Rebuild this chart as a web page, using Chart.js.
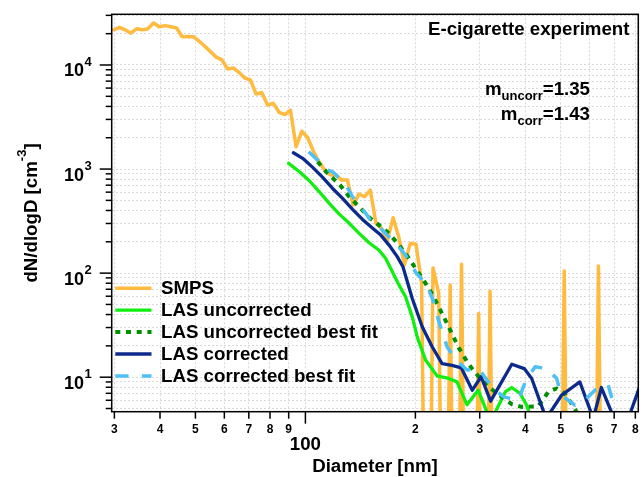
<!DOCTYPE html>
<html>
<head>
<meta charset="utf-8">
<script src="https://cdn.jsdelivr.net/npm/chart.js@4.4.0/dist/chart.umd.min.js"></script>
<style>
  html, body { margin: 0; padding: 0; background: #fff; }
  #wrap { width: 641px; height: 477px; }
</style>
</head>
<body>
<div id="wrap"><canvas id="chart" width="641" height="477"></canvas></div>
<script>
// SMPS size distribution (diameter in nm, dN/dlogD in cm^-3); 0 = no counts
const smpsDiameter = [29.9, 31.0, 32.1, 33.3, 34.5, 35.7, 37.0, 38.4, 39.8, 41.3, 42.8, 44.4, 46.0, 47.7, 49.4, 51.2,
  53.1, 55.0, 57.0, 59.1, 61.3, 63.5, 65.8, 68.2, 70.7, 73.3, 76.0, 78.8, 81.7, 84.7, 87.8, 91.0, 94.3, 97.8,
  101.4, 105.1, 108.9, 112.9, 117.0, 121.3, 125.7, 130.3, 135.1, 140.1, 145.2, 150.5, 156.0, 161.7, 167.6, 173.8,
  180.1, 186.7, 193.6, 200.7, 208.0, 215.6, 223.5, 231.7, 240.2, 249.0, 258.1, 267.5, 277.3, 287.5, 298.0, 308.9,
  320.2, 331.9, 344.1, 356.7, 369.7, 383.3, 397.3, 411.8, 426.9, 442.5, 458.7, 475.5, 492.9, 511.0, 529.7, 549.1,
  569.2, 590.0, 611.6, 634.0, 657.2, 681.3, 706.2, 732.1, 758.9, 786.7];
const smpsConc = [21800, 23000, 21800, 20200, 22300, 21800, 22200, 25300, 23300, 23900, 23300, 22700, 18700, 18800,
  18700, 16900, 15100, 13400, 11900, 11200, 9160, 9360, 8510, 7500, 7180, 5260, 5420, 4130, 4280, 3510, 3330, 3690,
  1640, 2310, 2010, 1490, 1180, 978, 876, 876, 783, 783, 451, 575, 542, 629, 301, 269, 205, 340, 223, 120, 193, 190,
  80, 0, 112, 64, 0, 77, 0, 122, 0, 0, 41, 0, 67, 0, 0, 0, 0, 0, 0, 0, 0, 0, 0, 0, 0, 105, 0, 0, 0, 0, 0, 117,
  0, 0, 0, 0, 0, 0];

// LAS uncorrected
const lasUncorrDiameter = [90.0, 96.3, 102.5, 109.2, 116.2, 123.8, 131.8, 140.3, 149.4, 159.1, 165.9, 171.2, 180.4,
  188.0, 196.1, 202.3, 213.3, 229.3, 246.8, 260.0, 276.8, 297.1, 312.4, 322.0, 352.4, 367.2, 387.0, 403.4, 420.0];
const lasUncorrConc = [1135, 942, 772, 605, 468, 369, 301, 241, 196, 166, 138, 111, 76.7, 59.2, 38.0, 24.4, 14.6,
  10.3, 9.72, 9.02, 5.44, 7.50, 4.82, 3.8, 7.22, 7.96, 6.97, 5.38, 3.5];

// LAS uncorrected best fit
const lasUncorrFitDiameter = [108.0, 116.2, 123.8, 131.8, 140.3, 149.4, 159.1, 169.4, 180.4, 192.0, 204.5, 217.8,
  231.8, 246.8, 262.8, 279.8, 298.0, 317.2, 344.9, 367.2, 391.0, 434.1, 462.2, 487.0, 513.3, 534.0, 580.0];
const lasUncorrFitConc = [1175, 876, 717, 542, 434, 343, 289, 241, 186, 139, 99.3, 71.3, 47.4, 30.3, 19.2, 13.3,
  10.1, 8.07, 6.47, 5.50, 5.18, 5.26, 7.22, 7.79, 6.97, 5.62, 3.5];

// LAS corrected
const lasCorrDiameter = [92.7, 98.3, 104.7, 111.5, 118.7, 126.4, 134.6, 143.3, 154.2, 160.8, 169.4, 178.4, 184.9,
  196.1, 208.8, 222.3, 236.6, 252.0, 267.0, 286.3, 302.6, 321.3, 367.2, 397.1, 416.3, 456.0, 502.4, 563.9, 613.6,
  645.9, 700.0, 755.0, 835.6];
const lasCorrConc = [1435, 1268, 1038, 832, 651, 522, 410, 328, 263, 232, 186, 144, 115, 57.1, 30.5, 19.6, 13.5,
  13.0, 12.3, 7.50, 10.1, 5.88, 13.3, 12.1, 9.72, 4.0, 6.71, 9.0, 4.0, 7.96, 4.0, 3.5, 9.5];

// LAS corrected best fit
const lasCorrFitDiameter = [102.1, 109.2, 115.0, 118.7, 123.8, 129.1, 134.6, 140.3, 146.3, 152.6, 159.1, 169.4,
  176.6, 188.0, 200.3, 213.3, 222.3, 231.8, 244.2, 257.4, 276.8, 298.0, 323.9, 348.5, 382.9, 400.3, 425.3, 457.4,
  487.0, 501.5, 546.8, 582.0, 619.7, 673.5, 695.0, 730.0];
const lasCorrFitConc = [1466, 1175, 978, 941, 815, 702, 542, 451, 375, 305, 279, 223, 195, 149, 102, 79.6, 58.1,
  34.5, 19.6, 14.9, 11.7, 12.1, 8.07, 6.47, 6.01, 9.15, 12.6, 12.1, 9.78, 6.71, 5.38, 6.01, 7.50, 8.47, 5.75, 3.0];

// axes
const xTicks = [30, 40, 50, 60, 70, 80, 90, 100, 200, 300, 400, 500, 600, 700, 800];
const xTickLabels = ["3", "4", "5", "6", "7", "8", "9", "100", "2", "3", "4", "5", "6", "7", "8"];
const yMajorTicks = [10, 100, 1000, 10000];
const yTicks = [5, 6, 7, 8, 9, 10, 20, 30, 40, 50, 60, 70, 80, 90, 100, 200, 300, 400, 500, 600, 700, 800, 900,
  1000, 2000, 3000, 4000, 5000, 6000, 7000, 8000, 9000, 10000, 20000, 30000];

const FONT = '"Liberation Sans", Arial, Helvetica, sans-serif';
function font(size) {
  return "bold " + size + "px " + FONT;
}

// log axis cannot show zero counts: push them far below the visible range
function toPoints(xs, ys) {
  return xs.map(function (x, i) {
    return { x: x, y: ys[i] > 0 ? ys[i] : 1e-3 };
  });
}

function series(label, xs, ys, color, width, dash, order) {
  return {
    label: label,
    data: toPoints(xs, ys),
    borderColor: color,
    backgroundColor: color,
    borderWidth: width,
    borderDash: dash,
    borderCapStyle: dash.length ? "butt" : "round",
    borderJoinStyle: "round",
    pointRadius: 0,
    tension: 0,
    fill: false,
    clip: 0,
    order: order
  };
}

const decorations = {
  id: "decorations",
  afterDraw(chart) {
    const ctx = chart.ctx;
    const area = chart.chartArea;
    const xs = chart.scales.x;
    const ys = chart.scales.y;
    ctx.save();
    ctx.strokeStyle = "#000";
    ctx.fillStyle = "#000";
    ctx.lineWidth = 1.5;
    ctx.setLineDash([]);
    ctx.strokeRect(area.left, area.top, area.right - area.left, area.bottom - area.top);

    // y ticks and labels
    yTicks.forEach(function (v) {
      const py = ys.getPixelForValue(v);
      const major = yMajorTicks.indexOf(v) >= 0;
      ctx.beginPath();
      ctx.moveTo(area.left - (major ? 12 : 6), py);
      ctx.lineTo(area.left, py);
      ctx.stroke();
      if (major) {
        ctx.textAlign = "right";
        ctx.textBaseline = "alphabetic";
        ctx.font = font(18);
        ctx.fillText("10", 84, py + 11.5);
        ctx.textAlign = "left";
        ctx.font = font(13);
        ctx.fillText(String(Math.round(Math.log10(v))), 84.5, py + 1);
      }
    });

    // x ticks and labels
    xTicks.forEach(function (v, i) {
      const px = xs.getPixelForValue(v);
      const big = v === 100;
      ctx.beginPath();
      ctx.moveTo(px, area.bottom);
      ctx.lineTo(px, area.bottom + (big ? 12 : 7));
      ctx.stroke();
      ctx.textAlign = "center";
      ctx.textBaseline = "alphabetic";
      ctx.font = font(big ? 18.7 : 12);
      ctx.fillText(xTickLabels[i], px, big ? 449.5 : 432.7);
    });

    // axis titles
    ctx.font = font(18.7);
    ctx.textAlign = "center";
    ctx.fillText("Diameter [nm]", (area.left + area.right) / 2, 472);

    ctx.save();
    ctx.translate(37, (area.top + area.bottom) / 2);
    ctx.rotate(-Math.PI / 2);
    ctx.textAlign = "left";
    ctx.font = font(18.7);
    const t1 = "dN/dlogD [cm";
    const w1 = ctx.measureText(t1).width;
    const w3 = ctx.measureText("]").width;
    ctx.font = font(13);
    const w2 = ctx.measureText("-3").width;
    let x0 = -(w1 + w2 + w3) / 2;
    ctx.font = font(18.7);
    ctx.fillText(t1, x0, 0);
    ctx.font = font(13);
    ctx.fillText("-3", x0 + w1, -11);
    ctx.font = font(18.7);
    ctx.fillText("]", x0 + w1 + w2, 0);
    ctx.restore();

    // annotations
    ctx.textAlign = "right";
    ctx.font = font(18.7);
    ctx.fillText("E-cigarette experiment", 629.5, 34.5);

    function mLabel(sub, value, baseline) {
      ctx.textAlign = "left";
      ctx.font = font(18.7);
      const wv = ctx.measureText(value).width;
      const wm = ctx.measureText("m").width;
      ctx.font = font(13);
      const ws = ctx.measureText(sub).width;
      const right = 590;
      ctx.fillText(sub, right - wv - ws, baseline + 5);
      ctx.font = font(18.7);
      ctx.fillText("m", right - wv - ws - wm, baseline);
      ctx.fillText(value, right - wv, baseline);
    }
    mLabel("uncorr", "=1.35", 94.5);
    mLabel("corr", "=1.43", 119.5);

    // legend
    chart.data.datasets.forEach(function (ds, i) {
      const y = 288.3 + i * 21.9;
      ctx.beginPath();
      ctx.strokeStyle = ds.borderColor;
      ctx.lineWidth = ds.borderWidth;
      ctx.setLineDash(ds.borderDash);
      ctx.lineCap = "butt";
      ctx.moveTo(115.3, y);
      ctx.lineTo(151.5, y);
      ctx.stroke();
      ctx.setLineDash([]);
      ctx.fillStyle = "#000";
      ctx.textAlign = "left";
      ctx.font = font(18.7);
      ctx.fillText(ds.label, 161, y + 5.8);
    });
    ctx.restore();
  }
};

const gridStyle = {
  color: "#d9d9d9",
  lineWidth: 1,
  drawTicks: false
};

new Chart(document.getElementById("chart"), {
  type: "line",
  data: {
    datasets: [
      series("SMPS", smpsDiameter, smpsConc, "#FFBA40", 3.5, [], 5),
      series("LAS uncorrected", lasUncorrDiameter, lasUncorrConc, "#11EE11", 3.3, [], 4),
      series("LAS uncorrected best fit", lasUncorrFitDiameter, lasUncorrFitConc, "#009000", 4, [5, 5.7], 3),
      series("LAS corrected", lasCorrDiameter, lasCorrConc, "#0C2A8C", 3.3, [], 2),
      series("LAS corrected best fit", lasCorrFitDiameter, lasCorrFitConc, "#4DC0F5", 3.5, [13.3, 13.3], 1)
    ]
  },
  options: {
    responsive: false,
    animation: false,
    devicePixelRatio: 1,
    layout: {
      padding: { left: 111.7, top: 14.3, right: 2.7, bottom: 65.3 }
    },
    scales: {
      x: {
        type: "logarithmic",
        min: 29.5,
        max: 815,
        afterBuildTicks: function (scale) {
          scale.ticks = xTicks.map(function (v) { return { value: v }; });
        },
        ticks: { display: false },
        grid: gridStyle,
        border: { display: false, dash: [2, 2] }
      },
      y: {
        type: "logarithmic",
        min: 4.66,
        max: 30700,
        afterBuildTicks: function (scale) {
          scale.ticks = yTicks.map(function (v) { return { value: v }; });
        },
        ticks: { display: false },
        grid: gridStyle,
        border: { display: false, dash: [2, 2] }
      }
    },
    plugins: {
      legend: { display: false },
      tooltip: { enabled: false }
    }
  },
  plugins: [decorations]
});
</script>
</body>
</html>
